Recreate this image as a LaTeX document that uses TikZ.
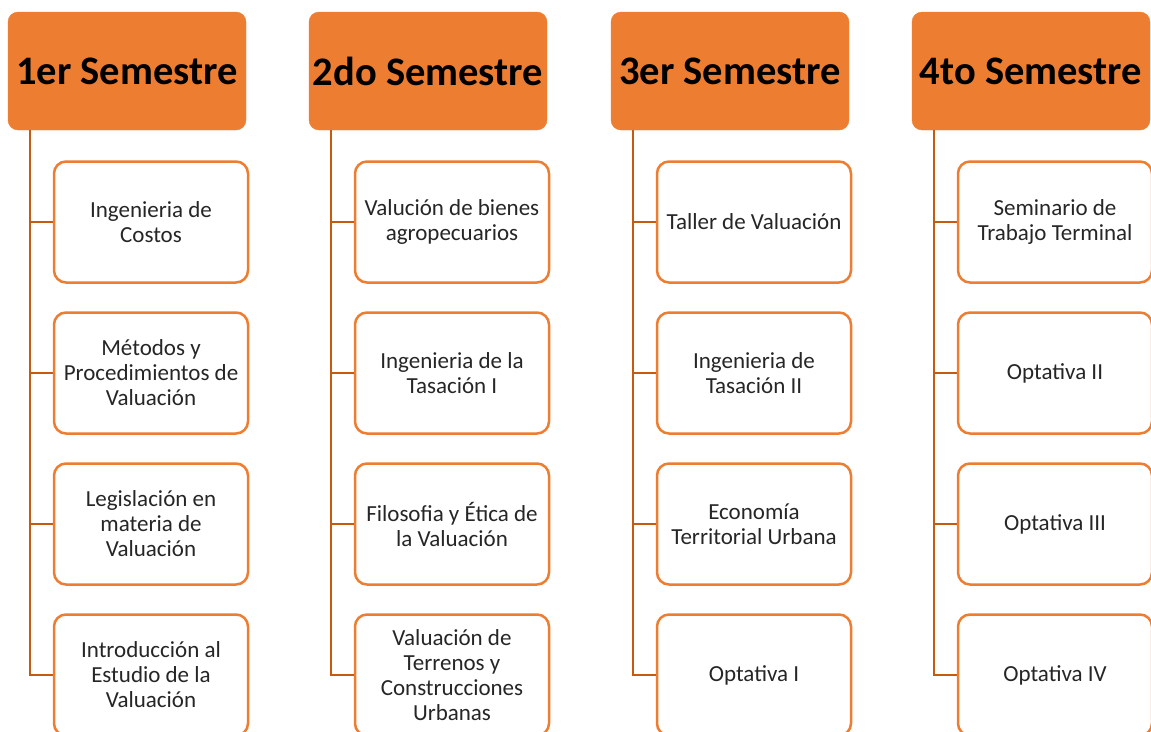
\documentclass[tikz,border=0pt]{standalone}
\usepackage{fontspec}
\setmainfont{Carlito}
\usepackage{tikz}
\usetikzlibrary{positioning}

\definecolor{semorange}{HTML}{ED7D31}
\definecolor{linebrown}{HTML}{C55A11}

\tikzset{
    semhead/.style={fill=semorange, draw=semorange, rounded corners=10pt,
        minimum width=238pt, minimum height=118pt, inner sep=0pt,
        font=\fontsize{40.5}{47}\selectfont\bfseries, text=black},
    subject/.style={fill=white, draw=semorange, line width=2.5pt, rounded corners=12pt,
        minimum width=194pt, minimum height=121pt, inner sep=0pt, align=center,
        font=\fontsize{23}{25}\selectfont, text=black!85},
    branch/.style={draw=linebrown, line width=2pt}
}

\begin{document}
\begin{tikzpicture}[x=1pt,y=-1pt]
    \useasboundingbox (0,0) rectangle (1151,731);
    \clip (0,0) rectangle (1151,731);

    % Semester headers
    \node[semhead] (h1) at (127,71) {1er Semestre};
    \node[semhead] (h2) at (428,71) {2do Semestre};
    \node[semhead] (h3) at (730,71) {3er Semestre};
    \node[semhead] (h4) at (1031,71) {4to Semestre};

    % Subjects, first semester
    \node[subject] (s1-1) at (151,222) {Ingenieria de\\Costos};
    \node[subject] (s1-2) at (151,373) {Métodos y\\Procedimientos de\\Valuación};
    \node[subject] (s1-3) at (151,524) {Legislación en\\materia de\\Valuación};
    \node[subject] (s1-4) at (151,675) {Introducción al\\Estudio de la\\Valuación};

    % Subjects, second semester
    \node[subject] (s2-1) at (452,222) {Valución de bienes\\agropecuarios};
    \node[subject] (s2-2) at (452,373) {Ingenieria de la\\Tasación I};
    \node[subject] (s2-3) at (452,524) {Filosofia y Ética de\\la Valuación};
    \node[subject] (s2-4) at (452,675) {Valuación de\\Terrenos y\\Construcciones\\Urbanas};

    % Subjects, third semester
    \node[subject] (s3-1) at (754,222) {Taller de Valuación};
    \node[subject] (s3-2) at (754,373) {Ingenieria de\\Tasación II};
    \node[subject] (s3-3) at (754,524) {Economía\\Territorial Urbana};
    \node[subject] (s3-4) at (754,675) {Optativa I};

    % Subjects, fourth semester
    \node[subject] (s4-1) at (1055,222) {Seminario de\\Trabajo Terminal};
    \node[subject] (s4-2) at (1055,373) {Optativa II};
    \node[subject] (s4-3) at (1055,524) {Optativa III};
    \node[subject] (s4-4) at (1055,675) {Optativa IV};

    % Branch lines
    \foreach \c in {1,2,3,4} {
        \coordinate (t\c) at ([xshift=22pt]h\c.south west);
        \draw[branch] (t\c) |- (s\c-4.west);
        \foreach \r in {1,2,3}
            \draw[branch] (t\c |- s\c-\r.west) -- (s\c-\r.west);
    }
\end{tikzpicture}
\end{document}
